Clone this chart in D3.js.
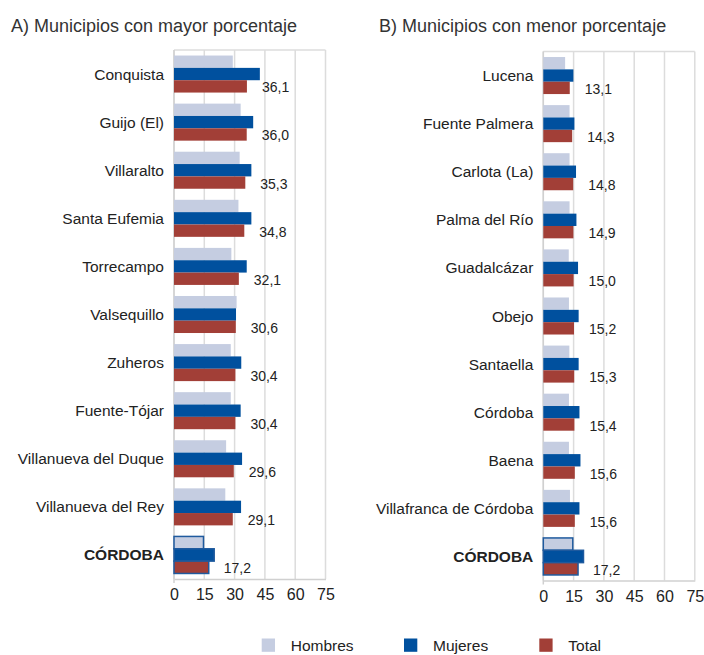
<!DOCTYPE html>
<html>
<head>
<meta charset="utf-8">
<script src="https://cdn.jsdelivr.net/npm/d3@7"></script>
<style>
  body { margin: 0; background: #fff; }
  svg { display: block; font-family: "Liberation Sans", Arial, sans-serif; }
</style>
</head>
<body>
<svg id="chart" width="704" height="655"></svg>
<script>
// datos
const seriesNames = ["Hombres", "Mujeres", "Total"];
const seriesColors = ["#c5cde1", "#00509e", "#a23f37"];
const ticks = [0, 15, 30, 45, 60, 75];

const leftTitle = "A) Municipios con mayor porcentaje";
const leftCats = ["Conquista", "Guijo (El)", "Villaralto", "Santa Eufemia", "Torrecampo",
  "Valsequillo", "Zuheros", "Fuente-Tójar", "Villanueva del Duque", "Villanueva del Rey", "CÓRDOBA"];
const leftHombres = [29.1, 33.0, 32.5, 31.9, 28.4, 31.0, 28.1, 28.1, 25.8, 25.4, 14.6];
const leftMujeres = [42.5, 39.2, 38.3, 38.3, 36.0, 30.7, 33.3, 33.0, 33.7, 33.2, 19.9];
const leftTotal = [36.1, 36.0, 35.3, 34.8, 32.1, 30.6, 30.4, 30.4, 29.6, 29.1, 17.2];

const rightTitle = "B) Municipios con menor porcentaje";
const rightCats = ["Lucena", "Fuente Palmera", "Carlota (La)", "Palma del Río", "Guadalcázar",
  "Obejo", "Santaella", "Córdoba", "Baena", "Villafranca de Córdoba", "CÓRDOBA"];
const rightHombres = [10.8, 13.0, 13.0, 13.0, 12.6, 12.7, 12.9, 12.7, 12.7, 13.2, 14.6];
const rightMujeres = [14.9, 15.4, 16.2, 16.4, 17.2, 17.5, 17.5, 17.9, 18.4, 17.9, 19.9];
const rightTotal = [13.1, 14.3, 14.8, 14.9, 15.0, 15.2, 15.3, 15.4, 15.6, 15.6, 17.2];

const svg = d3.select("#chart");
const fmt = (v) => d3.format(".1f")(v).replace(".", ",");

drawPanel({ x0: 174, top: 50, bottom: 579, titleX: 11, title: leftTitle,
  cats: leftCats, values: [leftHombres, leftMujeres, leftTotal] });
drawPanel({ x0: 543.3, top: 51.5, bottom: 580.5, titleX: 379, title: rightTitle,
  cats: rightCats, values: [rightHombres, rightMujeres, rightTotal] });
drawLegend();

function drawPanel(p) {
  const width = 151.5;
  const g = svg.append("g").attr("transform", `translate(${p.x0},0)`);

  svg.append("text")
    .attr("x", p.titleX).attr("y", 31.5)
    .attr("font-size", 18).attr("fill", "#333")
    .text(p.title);

  const x = d3.scaleLinear().domain([0, 75]).range([0, width]);
  const y = d3.scaleBand().domain(p.cats).range([p.top, p.bottom])
    .paddingInner(0.23).paddingOuter(0.115);
  const ySub = d3.scaleBand().domain(seriesNames).range([0, y.bandwidth()]);

  // rejilla
  g.selectAll(".grid").data(ticks).enter().append("line")
    .attr("x1", (d) => x(d)).attr("x2", (d) => x(d))
    .attr("y1", p.top).attr("y2", p.bottom)
    .attr("stroke", "#dcdcdc").attr("stroke-width", 1.5);
  g.append("line").attr("x1", 0).attr("x2", width)
    .attr("y1", p.top).attr("y2", p.top)
    .attr("stroke", "#dcdcdc").attr("stroke-width", 1.5);
  g.append("line").attr("x1", 0).attr("x2", 0)
    .attr("y1", p.top).attr("y2", p.bottom + 4)
    .attr("stroke", "#d0d0d0").attr("stroke-width", 1.5);

  const rows = p.cats.map((c, i) => ({ cat: c, vals: p.values.map((s) => s[i]) }));

  const row = g.selectAll(".row").data(rows).enter().append("g")
    .attr("transform", (d) => `translate(0,${y(d.cat)})`);

  row.selectAll("rect")
    .data((d) => d.vals.map((v, k) => ({ v, k, cat: d.cat })))
    .enter().append("rect")
    .attr("x", 0)
    .attr("y", (d) => ySub(seriesNames[d.k]))
    .attr("width", (d) => x(d.v))
    .attr("height", ySub.bandwidth())
    .attr("fill", (d) => seriesColors[d.k])
    .attr("stroke", (d) => (d.cat === "CÓRDOBA" ? "#1f5a9e" : "none"))
    .attr("stroke-width", 1.5);

  row.append("text")
    .attr("x", (d) => x(d.vals[2]) + 15)
    .attr("y", ySub("Total") + ySub.bandwidth() / 2 + 6)
    .attr("font-size", 14).attr("fill", "#222")
    .text((d) => fmt(d.vals[2]));

  // eje de categorías
  g.selectAll(".cat").data(p.cats).enter().append("text")
    .attr("x", -10)
    .attr("y", (d) => y(d) + y.bandwidth() / 2 + 5.5)
    .attr("text-anchor", "end")
    .attr("font-size", 15.5)
    .attr("font-weight", (d) => (d === "CÓRDOBA" ? "bold" : "normal"))
    .attr("fill", "#222")
    .text((d) => d);

  // eje x
  const axis = g.append("g")
    .attr("transform", `translate(0,${p.bottom})`)
    .call(d3.axisBottom(x).tickValues(ticks).tickSize(0).tickPadding(10));
  axis.select(".domain").attr("stroke", "#d0d0d0").attr("stroke-width", 1.5);
  axis.selectAll("text").attr("font-size", 16).attr("fill", "#222")
    .attr("font-family", "Liberation Sans, Arial, sans-serif");
}

function drawLegend() {
  const xs = [261.7, 404, 539.3];
  const lg = svg.selectAll(".legend").data(seriesNames).enter().append("g")
    .attr("transform", (d, i) => `translate(${xs[i]},638.5)`);
  lg.append("rect").attr("width", 13.3).attr("height", 13.3)
    .attr("fill", (d, i) => seriesColors[i]);
  lg.append("text").attr("x", 29).attr("y", 12.5)
    .attr("font-size", 15.5).attr("fill", "#222")
    .text((d) => d);
}
</script>
</body>
</html>
